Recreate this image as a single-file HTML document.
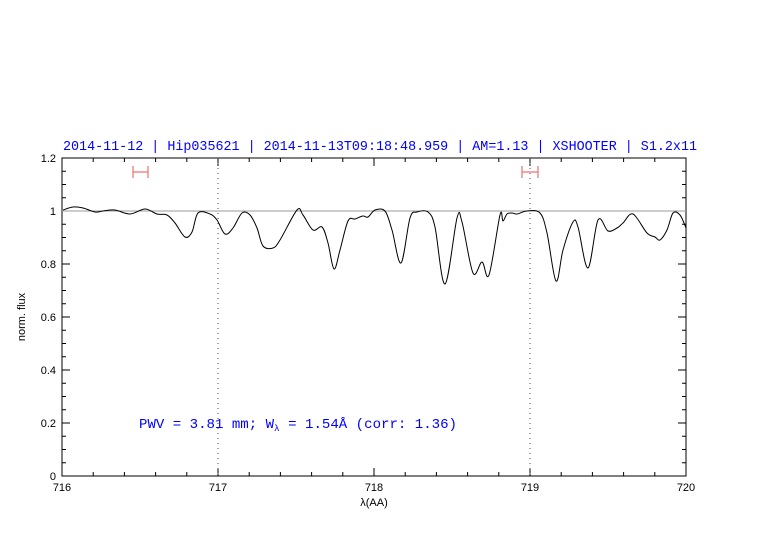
<!DOCTYPE html>
<html><head><style>body{margin:0;background:#fff}</style></head><body>
<svg width="782" height="542" xmlns="http://www.w3.org/2000/svg" font-family="Liberation Sans, sans-serif">
<rect width="782" height="542" fill="#fff"/>
<text x="63" y="150" font-family="Liberation Mono, monospace" font-size="13.5" fill="#0000ff" textLength="634" lengthAdjust="spacingAndGlyphs">2014-11-12 | Hip035621 | 2014-11-13T09:18:48.959 | AM=1.13 | XSHOOTER | S1.2x11</text>
<g stroke="#000" stroke-width="1" fill="none">
<rect x="62" y="158" width="624" height="318"/>
<path d="M62,476v-8M218,476v-8M374,476v-8M530,476v-8M686,476v-8M62,158v8M218,158v8M374,158v8M530,158v8"/>
<path d="M93.2,476v-4M124.4,476v-4M155.6,476v-4M186.8,476v-4M249.2,476v-4M280.4,476v-4M311.6,476v-4M342.8,476v-4M405.2,476v-4M436.4,476v-4M467.6,476v-4M498.8,476v-4M561.2,476v-4M592.4,476v-4M623.6,476v-4M654.8,476v-4"/>
<path d="M93.2,158v4M124.4,158v4M155.6,158v4M186.8,158v4M249.2,158v4M280.4,158v4M311.6,158v4M342.8,158v4M405.2,158v4M436.4,158v4M467.6,158v4M498.8,158v4M561.2,158v4M592.4,158v4M623.6,158v4M654.8,158v4"/>
<path d="M62,476h8M62,423h8M62,370h8M62,317h8M62,264h8M62,211h8M62,158h8M686,476h-8M686,423h-8M686,370h-8M686,317h-8M686,264h-8M686,211h-8"/>
<path d="M62,462.75h4M62,449.5h4M62,436.25h4M62,409.75h4M62,396.5h4M62,383.25h4M62,356.75h4M62,343.5h4M62,330.25h4M62,303.75h4M62,290.5h4M62,277.25h4M62,250.75h4M62,237.5h4M62,224.25h4M62,197.75h4M62,184.5h4M62,171.25h4"/>
<path d="M686,462.75h-4M686,449.5h-4M686,436.25h-4M686,409.75h-4M686,396.5h-4M686,383.25h-4M686,356.75h-4M686,343.5h-4M686,330.25h-4M686,303.75h-4M686,290.5h-4M686,277.25h-4M686,250.75h-4M686,237.5h-4M686,224.25h-4M686,197.75h-4M686,184.5h-4M686,171.25h-4"/>
<path d="M218,158V476M530,158V476" stroke-dasharray="1,4" stroke-width="1" stroke="#444"/>
</g>
<line x1="62" y1="211" x2="686" y2="211" stroke="#999" stroke-width="1"/>
<g stroke="#f07070" stroke-width="1.2" fill="none">
<path d="M133,172h15M133,166v12M148,166v12"/>
<path d="M522,172h16M522,166v12M538,166v12"/>
</g>
<path id="spec" fill="none" stroke="#000" stroke-width="1" d=""/>
<g font-size="11" fill="#000" text-anchor="end">
<text x="56" y="480">0</text><text x="56" y="427">0.2</text><text x="56" y="374">0.4</text><text x="56" y="321">0.6</text><text x="56" y="268">0.8</text><text x="56" y="215">1</text><text x="56" y="162">1.2</text>
</g>
<g font-size="11" fill="#000" text-anchor="middle">
<text x="62" y="491">716</text><text x="218" y="491">717</text><text x="374" y="491">718</text><text x="530" y="491">719</text><text x="686" y="491">720</text>
<text x="374" y="506">λ(AA)</text>
<text transform="translate(25,317) rotate(-90)">norm. flux</text>
</g>
<text x="139" y="428" font-family="Liberation Mono, monospace" font-size="13.5" fill="#0000ff" textLength="318" lengthAdjust="spacingAndGlyphs">PWV = 3.81 mm; W<tspan font-size="9" dy="3">λ</tspan><tspan dy="-3"> = 1.54Å (corr: 1.36)</tspan></text>
</svg>
<script>
var p=[63,210,73,207,83,208,95,212,103,211,115,210,130,214,145,209,157,214,167,215,175,223,185,237,192,232,198,213,210,214,217,220,225,234,233,228,242,213,250,215,257,228,263,246,273,248,280,240,297,210,303,215,313,230,322,227,328,243,334,269,340,250,348,221,355,219,363,216,368,217,375,210,385,211,392,230,401,263,410,218,417,212,428,212,435,227,445,284,457,218,462,222,473,273,482,262,489,275,500,215,503,221,507,214,512,213,517,214,527,211,540,213,547,233,556,281,563,250,573,222,578,227,588,268,598,220,608,231,617,228,623,223,633,214,647,233,655,237,660,240,667,230,673,213,680,215,686,228];
var n=p.length/2,X=i=>p[2*Math.max(0,Math.min(n-1,i))],Y=i=>p[2*Math.max(0,Math.min(n-1,i))+1];
var d="M"+X(0)+","+Y(0);
for(var i=0;i<n-1;i++){
var c1x=X(i)+(X(i+1)-X(i-1))/6,c1y=Y(i)+(Y(i+1)-Y(i-1))/6,c2x=X(i+1)-(X(i+2)-X(i))/6,c2y=Y(i+1)-(Y(i+2)-Y(i))/6;
d+=" C"+c1x.toFixed(1)+","+c1y.toFixed(1)+" "+c2x.toFixed(1)+","+c2y.toFixed(1)+" "+X(i+1)+","+Y(i+1);}
document.getElementById("spec").setAttribute("d",d);
</script>
</body></html>
